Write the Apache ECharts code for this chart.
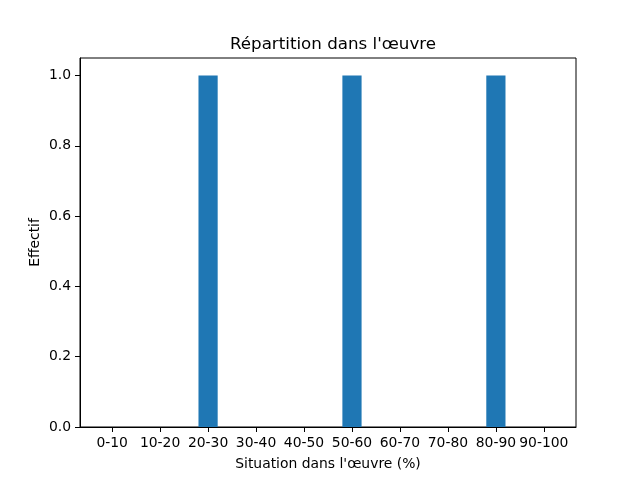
<!DOCTYPE html>
<html><head><meta charset="utf-8">
<script src="https://cdn.jsdelivr.net/npm/echarts@6/dist/echarts.min.js"></script>
<style>html,body{margin:0;padding:0;background:#fff}#c{width:640px;height:480px}</style>
</head><body><div id="c"></div>
<script>
const categories = ['0-10','10-20','20-30','30-40','40-50','50-60','60-70','70-80','80-90','90-100'];
const values = [0,0,1,0,0,1,0,0,1,0];
const yTicks = [0,0.2,0.4,0.6,0.8,1.0];
const titleText = "Répartition dans l'œuvre";
const xName = "Situation dans l'œuvre (%)";
const yName = "Effectif";

const font = 'DejaVu Sans';
const chart = echarts.init(document.getElementById('c'), null, {renderer:'canvas'});
const xIdx = categories.map((_, i) => i);
chart.setOption({
  animation: false,
  backgroundColor: '#fff',
  title: {text: titleText, left: 328, top: 31, textAlign: 'center',
    textStyle: {fontFamily: font, fontSize: 16.7, fontWeight: 'normal', color: '#000'}},
  grid: {left: 80, right: 64, top: 58, bottom: 53, show: true, borderColor: '#000', borderWidth: 1, backgroundColor: 'transparent'},
  xAxis: {
    type: 'value', min: -0.67, max: 9.67,
    name: xName, nameLocation: 'middle', nameGap: 30, nameMoveOverlap: false,
    nameTextStyle: {fontFamily: font, fontSize: 13.9, color: '#000'},
    axisLine: {show: true, onZero: false, lineStyle: {color: '#000', width: 1}},
    axisTick: {show: true, length: 5, lineStyle: {color: '#000'}, customValues: xIdx},
    axisLabel: {fontFamily: font, fontSize: 13.9, color: '#000', margin: 9, customValues: xIdx,
      formatter: v => categories[Math.round(v)]},
    splitLine: {show: false}
  },
  yAxis: {
    type: 'value', min: 0, max: 1.05,
    name: yName, nameLocation: 'middle', nameGap: 38, nameRotate: 90, nameMoveOverlap: false,
    nameTextStyle: {fontFamily: font, fontSize: 13.9, color: '#000'},
    axisLine: {show: true, onZero: false, lineStyle: {color: '#000', width: 1}},
    axisTick: {show: true, length: 5, lineStyle: {color: '#000'}, customValues: yTicks},
    axisLabel: {fontFamily: font, fontSize: 13.9, color: '#000', margin: 9, customValues: yTicks,
      formatter: v => v.toFixed(1)},
    splitLine: {show: false}
  },
  series: [{
    type: 'bar', barWidth: 19.2,
    itemStyle: {color: '#1f77b4'},
    data: values.map((v, i) => [i, v])
  }]
});
</script></body></html>
